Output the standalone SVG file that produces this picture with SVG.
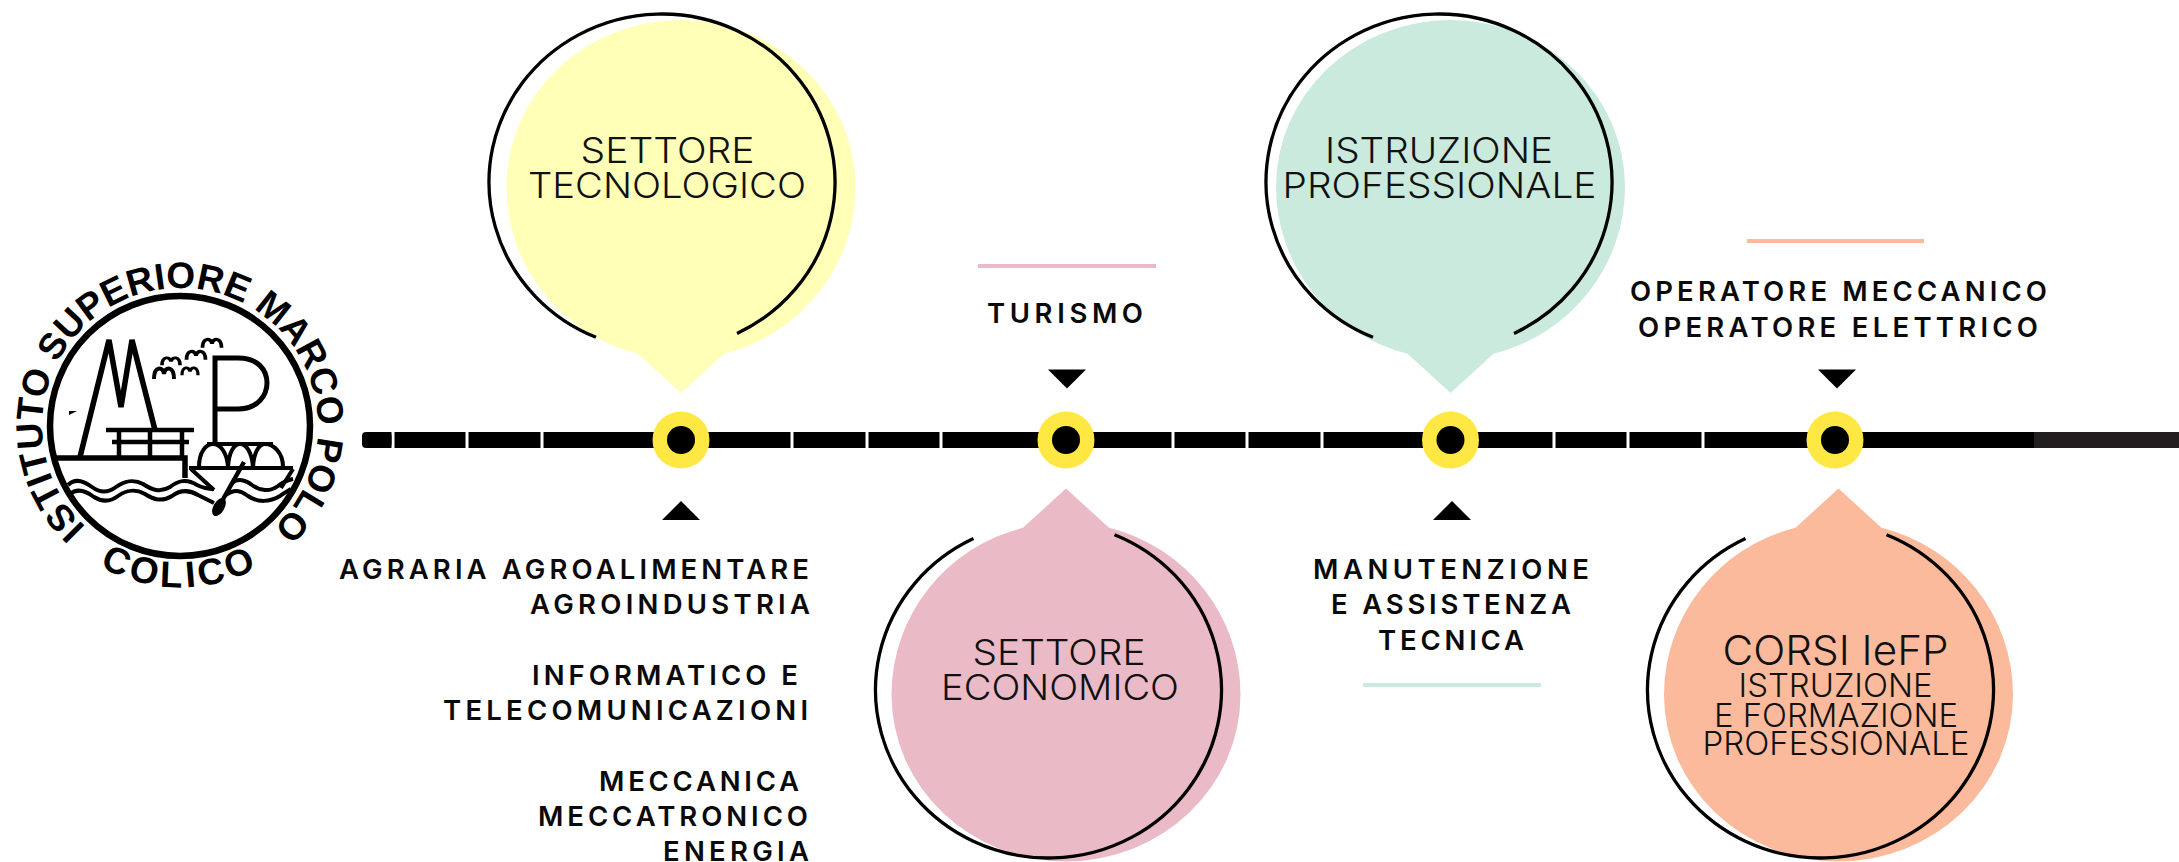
<svg xmlns="http://www.w3.org/2000/svg" width="2179" height="862" viewBox="0 0 2179 862">
<style>
.t{font-family:"Inter","Lato","Liberation Sans",sans-serif;font-weight:280;fill:#111}
.l{font-family:"Inter","Lato","Liberation Sans",sans-serif;font-weight:600;fill:#0a0a0a;font-size:27.500px}
.arc{fill:none;stroke:#000;stroke-width:3.300}
.y{fill:#ffffb7}.p{fill:#eabac6}.g{fill:#caeadd}.o{fill:#fbba9c}
.ring{fill:#ffe843}
.lg{fill:none;stroke:#000}
.lt{font-family:"Liberation Sans",Arial,sans-serif;font-weight:700;fill:#000}
</style>
<defs>
<path id="drop" d="M-174.500 0A174.500 167 0 0 1 174.500 0A174.500 172 0 0 1 43 166.700L0 206L-43 166.700A174.500 172 0 0 1 -174.500 0Z"/>
<path id="swoosh" d="M-66 155.300A173 168 0 1 1 75 151.400"/>
<g id="dot"><circle r="28.500" class="ring"/><circle r="14" fill="#000"/></g>
<path id="tri" d="M-19 0H19L0 -19Z"/>
<path id="ringText" d="M85.900 526.900A138 138 0 1 1 259.200 539.100"/>
<path id="bottomText" d="M40 507A162 162 0 0 0 320 507"/>
<path id="bird" d="M-10 6C-10 -7 -1 -7 0 1C1 -7 10 -7 10 6"/>
</defs>

<g id="connectors">
<rect x="362" y="432" width="29.500" height="16" rx="4" fill="#000"/>
<path d="M385 440H391.500M394.500 440H465.500M468.500 440H540.500M543.500 440H790.500M793.500 440H865.500M868.500 440H939.500M942.500 440H1171.500M1174.500 440H1245.500M1248.500 440H1320.500M1323.500 440H1552.500M1555.500 440H1626.500M1629.500 440H1701.500M1704.500 440H2034" stroke="#000" stroke-width="16" fill="none"/>
<path d="M2034 440H2179" stroke="#231f20" stroke-width="16" fill="none"/>
</g>

<g id="logo">
<circle cx="180" cy="426" r="130" fill="none" stroke="#000" stroke-width="6.500"/>
<text class="lt" font-size="37"><textPath href="#ringText">ISTITUTO SUPERIORE MARCO POLO</textPath></text>
<text class="lt" font-size="37" letter-spacing="4" text-anchor="middle"><textPath href="#bottomText" startOffset="50%">COLICO</textPath></text>
<path class="lg" stroke-width="5.500" d="M80 457L109 340L121 407L132 340L155 430"/>
<path class="lg" stroke-width="5.500" d="M56 458H185V478"/>
<path class="lg" stroke-width="4.500" d="M106 430H194M112 442H189M119 430V458M150 430V458M182 430V458"/>
<path class="lg" stroke-width="5" d="M215 442V358H238C258 358 267 370 267 383C267 395 258 409 238 409H215"/>
<path class="lg" stroke-width="4" d="M189 468H293M207 444H273M199 467C199 452 206 444 213 444C220 444 227 452 228 467C229 452 234 444 240 444C246 444 252 452 253 467C254 452 259 444 265 444C273 444 283 452 283 467M191 469L214 490M293 469L281 488"/>
<path class="lg" stroke-width="4" d="M68 485C75 478 84 481 92 487C100 493 108 493 116 487C124 481 134 479 143 484C152 490 160 493 170 487C178 481 186 478 197 485C203 488 209 489 214 489M232 483C238 478 246 480 252 485C260 491 270 492 278 486C283 482 288 480 293 479"/>
<path class="lg" stroke-width="4" d="M70 494C77 488 86 491 94 497C102 502 110 502 118 496C126 490 136 489 145 494C154 500 162 502 172 496C180 490 188 489 198 495C204 498 208 500 214 503M226 495C234 489 240 490 248 496C258 503 270 502 280 496C284 493 288 491 291 489"/>
<path class="lg" stroke-width="4.500" d="M244 462L222 501"/>
<ellipse cx="219" cy="507" rx="5.500" ry="10" transform="rotate(30 219 507)" fill="#000"/>
<path d="M69 411L77 411L69 415Z" fill="#000"/>
<g fill="none" stroke="#000" stroke-width="4">
<use href="#bird" transform="translate(164 373)"/>
<use href="#bird" transform="translate(171 361) scale(.9 .7)"/>
<use href="#bird" transform="translate(190 371) scale(.8 .7)"/>
<use href="#bird" transform="translate(196 355) scale(.95 .8)"/>
<use href="#bird" transform="translate(212 343) scale(.95 .8)"/>
</g>
</g>

<g id="node-settore-tecnologico">
<use href="#drop" class="y" transform="translate(681 187)"/>
<use href="#swoosh" class="arc" transform="translate(662 182)"/>
<text class="t" font-size="36" x="580.500" y="163" textLength="174" lengthAdjust="spacingAndGlyphs">SETTORE</text>
<text class="t" font-size="36" x="528" y="198" textLength="278" lengthAdjust="spacingAndGlyphs">TECNOLOGICO</text>
</g>
<g id="node-agraria">
<use href="#dot" transform="translate(681 440)"/>
<use href="#tri" transform="translate(681 520)"/>
<text class="l" x="339" y="579" textLength="470">AGRARIA AGROALIMENTARE</text>
<text class="l" x="530" y="614" textLength="280">AGROINDUSTRIA</text>
<text class="l" x="532" y="685" textLength="266">INFORMATICO E</text>
<text class="l" x="443" y="720" textLength="365">TELECOMUNICAZIONI</text>
<text class="l" x="599" y="791" textLength="200">MECCANICA</text>
<text class="l" x="538" y="826" textLength="270">MECCATRONICO</text>
<text class="l" x="663" y="861" textLength="146">ENERGIA</text>
</g>

<g id="node-settore-economico">
<use href="#drop" class="p" transform="translate(1066 694.500) scale(1 -1)"/>
<use href="#swoosh" class="arc" transform="translate(1048.500 690) rotate(180)"/>
<text class="t" font-size="36" x="972.500" y="664.500" textLength="173" lengthAdjust="spacingAndGlyphs">SETTORE</text>
<text class="t" font-size="36" x="941" y="700" textLength="238" lengthAdjust="spacingAndGlyphs">ECONOMICO</text>
</g>
<g id="node-turismo">
<use href="#dot" transform="translate(1066 440)"/>
<rect x="978" y="264" width="178" height="4" class="p"/>
<text class="l" x="987" y="322.500" textLength="156">TURISMO</text>
<use href="#tri" transform="translate(1067 369.500) scale(1 -1)"/>
</g>

<g id="node-istruzione-professionale">
<use href="#drop" class="g" transform="translate(1450.500 187)"/>
<use href="#swoosh" class="arc" transform="translate(1439 182)"/>
<text class="t" font-size="36" x="1325" y="163" textLength="228" lengthAdjust="spacingAndGlyphs">ISTRUZIONE</text>
<text class="t" font-size="36" x="1282.500" y="198" textLength="314" lengthAdjust="spacingAndGlyphs">PROFESSIONALE</text>
</g>
<g id="node-manutenzione">
<use href="#dot" transform="translate(1450.500 440)"/>
<use href="#tri" transform="translate(1452 520)"/>
<text class="l" x="1313" y="579" textLength="276">MANUTENZIONE</text>
<text class="l" x="1331" y="614" textLength="240">E ASSISTENZA</text>
<text class="l" x="1378" y="650" textLength="146">TECNICA</text>
<rect x="1363" y="683" width="178" height="4" class="g"/>
</g>

<g id="node-corsi-iefp">
<use href="#drop" class="o" transform="translate(1838.500 694.500) scale(1 -1)"/>
<use href="#swoosh" class="arc" transform="translate(1820.500 690) rotate(180)"/>
<text class="t" font-size="41" x="1722.500" y="665" textLength="226" lengthAdjust="spacingAndGlyphs">CORSI IeFP</text>
<text class="t" font-size="32" x="1738.500" y="697" textLength="194" lengthAdjust="spacingAndGlyphs">ISTRUZIONE</text>
<text class="t" font-size="32" x="1714" y="726.500" textLength="244" lengthAdjust="spacingAndGlyphs">E FORMAZIONE</text>
<text class="t" font-size="32" x="1702.500" y="755" textLength="267" lengthAdjust="spacingAndGlyphs">PROFESSIONALE</text>
</g>
<g id="node-operatore">
<use href="#dot" transform="translate(1835 440)"/>
<rect x="1747" y="239" width="177" height="4" class="o"/>
<text class="l" x="1630" y="301" textLength="417">OPERATORE MECCANICO</text>
<text class="l" x="1638" y="337" textLength="400">OPERATORE ELETTRICO</text>
<use href="#tri" transform="translate(1837 369.500) scale(1 -1)"/>
</g>
</svg>
